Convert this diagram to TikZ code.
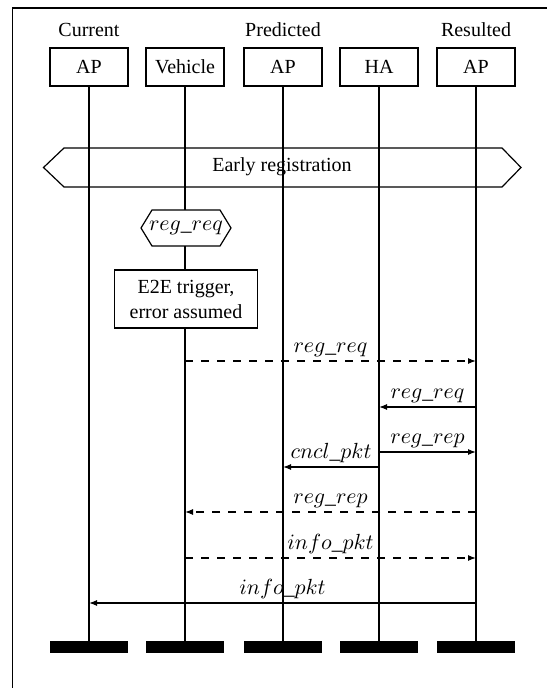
\documentclass[tikz,border=0pt]{standalone}
\usepackage{fontspec}
\setmainfont{Liberation Serif}
\usetikzlibrary{arrows.meta}
\begin{document}
\begin{tikzpicture}[x=0.5pt,y=-0.5pt,
  every node/.style={font=\fontsize{10}{12}\selectfont},
  actor/.style={draw, line width=0.6pt, minimum width=39pt, minimum height=19pt, inner sep=0pt},
  hdr/.style={inner sep=0pt},
  bar/.style={fill=black, minimum width=39pt, minimum height=6pt, inner sep=0pt},
  life/.style={line width=0.6pt},
  msg/.style={line width=0.6pt, -{Latex[length=4pt,width=3pt]}},
  dmsg/.style={msg, dash pattern=on 4pt off 4pt},
  lbl/.style={font=\fontsize{10.8}{13}\selectfont, anchor=south, inner sep=2pt},
  hexa/.style={line width=0.6pt, draw}
]
\useasboundingbox (0,0) rectangle (547,688);
% frame
\draw[line width=0.7pt] (12.5,688) -- (12.5,8) -- (547,8);

% headers
\node[actor] (cur) at (89,67) {AP};
\node[actor] (veh) at (185,67) {Vehicle};
\node[actor] (pre) at (283,67) {AP};
\node[actor] (ha) at (379,67) {HA};
\node[actor] (res) at (476,67) {AP};
\node[hdr] (curl) at (89,30) {Current};
\node[hdr] (prel) at (283,30) {Predicted};
\node[hdr] (resl) at (476,30) {Resulted};

% end bars
\node[bar] (curb) at (89,647) {};
\node[bar] (vehb) at (185,647) {};
\node[bar] (preb) at (283,647) {};
\node[bar] (hab) at (379,647) {};
\node[bar] (resb) at (476,647) {};

% lifelines
\draw[life] (cur) -- (curb);
\draw[life] (veh) -- (vehb);
\draw[life] (pre) -- (preb);
\draw[life] (ha) -- (hab);
\draw[life] (res) -- (resb);

% Early registration
\draw[hexa] (43.5,167.5) -- (64,148) -- (502,148) -- (521,167.5) -- (502,187) -- (64,187) -- cycle;
\node (er) at (282,167) {Early registration};

% reg_req condition
\draw[hexa, fill=white] (141,228) -- (152,210) -- (220,210) -- (231,228) -- (220,246) -- (152,246) -- cycle;
\node[font=\fontsize{10.8}{13}\selectfont] (rr) at (186,228) {$reg\_req$};

% E2E box
\node[draw, line width=0.6pt, fill=white, align=center, minimum width=71.5pt, minimum height=29pt, inner sep=0pt, font=\fontsize{10}{12.5}\selectfont] (e2e) at (186,299) {E2E trigger,\\error assumed};

% messages
\draw[dmsg] (veh |- 0,361) -- node[lbl] {$reg\_req$} (res |- 0,361);
\draw[msg] (res |- 0,407) -- node[lbl] {$reg\_req$} (ha |- 0,407);
\draw[msg] (ha |- 0,452) -- node[lbl] {$reg\_rep$} (res |- 0,452);
\draw[msg] (ha |- 0,467) -- node[lbl] {$cncl\_pkt$} (pre |- 0,467);
\draw[dmsg] (res |- 0,512) -- node[lbl] {$reg\_rep$} (veh |- 0,512);
\draw[dmsg] (veh |- 0,558) -- node[lbl] {$info\_pkt$} (res |- 0,558);
\draw[msg] (res |- 0,603) -- node[lbl] {$info\_pkt$} (cur |- 0,603);
\end{tikzpicture}
\end{document}
